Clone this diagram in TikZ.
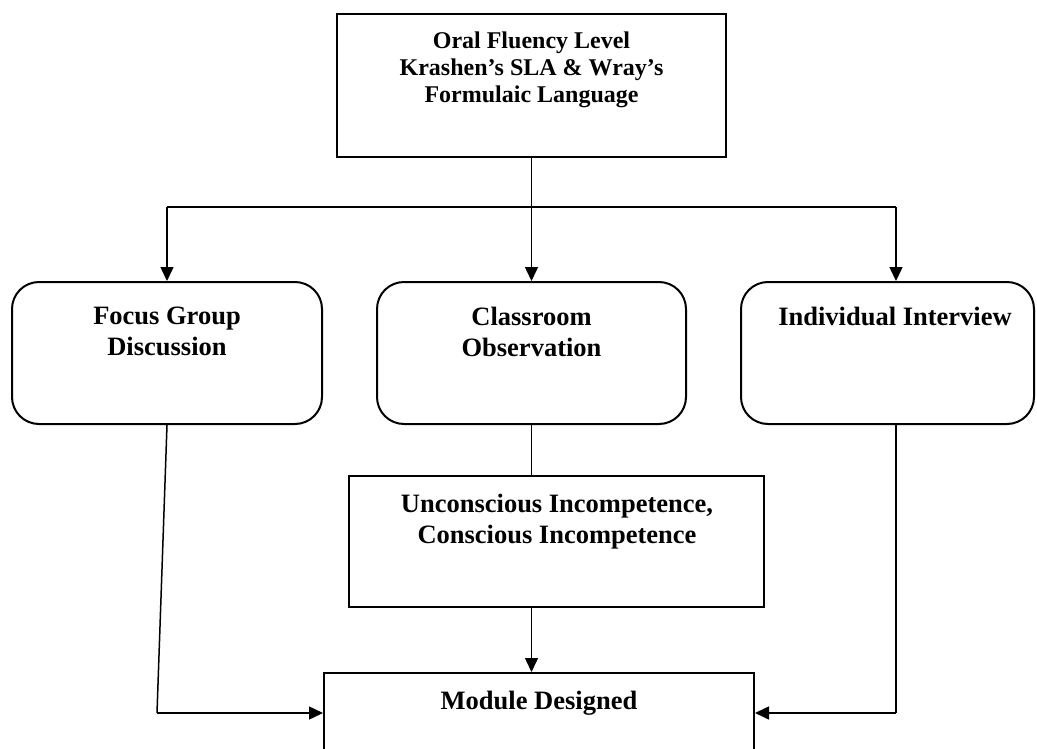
\documentclass[tikz,border=0pt]{standalone}
\usepackage{fontspec}
\setmainfont{Liberation Serif}
\usetikzlibrary{arrows.meta}
\begin{document}
\begin{tikzpicture}[x=1pt,y=-1pt,
  sq/.style={draw, line width=2pt, inner sep=0pt, rectangle},
  rbox/.style={draw, line width=2pt, inner sep=0pt, rectangle, rounded corners=27pt},
  bigtxt/.style={inner sep=0pt, align=center, anchor=north, font=\fontsize{24}{27}\selectfont\bfseries},
  txt/.style={inner sep=0pt, align=center, anchor=north, font=\fontsize{26.5}{31}\selectfont\bfseries},
  conn/.style={line width=1.5pt},
  arr/.style={line width=1.5pt, -{Triangle[length=14pt,width=13pt]}}]
\useasboundingbox (0,0) rectangle (1037,749);
\clip (0,0) rectangle (1037,749);
\fill[white] (0,0) rectangle (1037,749);
% boxes
\node[sq, line width=2.5pt, minimum width=389pt, minimum height=143pt] (top) at (531.5,85.5) {};
\node[bigtxt] (toptxt) at (531.5,31.5) {Oral Fluency Level\\Krashen’s SLA \& Wray’s\\Formulaic Language};
\node[rbox, minimum width=310pt, minimum height=142pt] (focus) at (167,353) {};
\node[txt] (focustxt) at (167,307) {Focus Group\\Discussion};
\node[rbox, minimum width=309pt, minimum height=142pt] (class) at (531.5,353) {};
\node[txt] (classtxt) at (531.5,307) {Classroom\\Observation};
\node[rbox, minimum width=293pt, minimum height=142pt] (inter) at (887.5,353) {};
\node[txt] (intertxt) at (895,307) {Individual Interview};
\node[sq, minimum width=415pt, minimum height=131pt] (uc) at (556.5,541.5) {};
\node[txt] (uctxt) at (557,494) {Unconscious Incompetence,\\Conscious Incompetence};
\node[sq, minimum width=430pt, minimum height=80pt] (module) at (539,713) {};
\node[txt] (moduletxt) at (539,691) {Module Designed};
% junctions
\coordinate (j) at (531.5,207);
\coordinate (jl) at (167,207);
\coordinate (jr) at (896,207);
\coordinate (lb) at (157,713);
\coordinate (rt) at (896,424);
\coordinate (rb) at (896,713);
% connectors
\draw[conn] (top.south) -- (j);
\draw[conn] (jl) -- (jr);
\draw[arr] (jl) -- (focus.north);
\draw[arr] (j) -- (class.north);
\draw[arr] (jr) -- (jr |- inter.north);
\draw[conn] (class.south) -- (class.south |- uc.north);
\draw[arr] (class.south |- uc.south) -- (class.south |- module.north);
\draw[conn] (focus.south) -- (lb);
\draw[arr] (lb) -- (module.west);
\draw[conn] (rt) -- (rb);
\draw[arr] (rb) -- (module.east);
\end{tikzpicture}
\end{document}
